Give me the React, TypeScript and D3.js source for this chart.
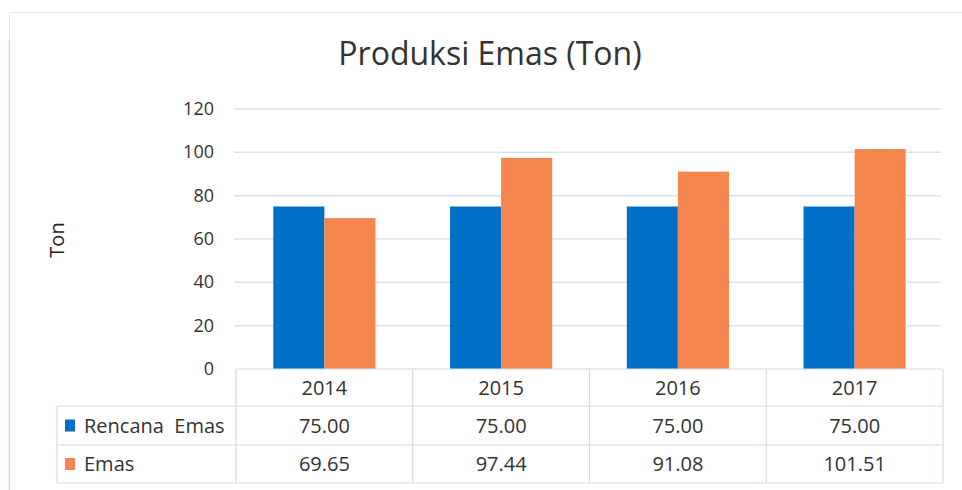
import React from 'react';
import * as d3 from 'd3';

const years = ['2014', '2015', '2016', '2017'];
const seriesNames = ['Rencana  Emas', 'Emas'];
const rencana = [75.0, 75.0, 75.0, 75.0];
const emas = [69.65, 97.44, 91.08, 101.51];
const yTicks = [0, 20, 40, 60, 80, 100, 120];
const colors = ['#0070C6', '#F4864E'];

const W = 962;
const H = 490;
const FONT = '"Open Sans", "Noto Sans", sans-serif';

const App = () => {
  const plotLeft = 236;
  const plotRight = 943;
  const plotTop = 109;
  const plotBottom = 369;

  const x = d3.scaleBand().domain(years).range([plotLeft, plotRight]).padding(0);
  const inner = d3.scaleBand().domain(seriesNames).range([0, x.bandwidth()]).paddingInner(0).paddingOuter(0.73);
  const y = d3.scaleLinear().domain([0, 120]).range([plotBottom, plotTop]);

  const values = [rencana, emas];
  const rowTop = 369;
  const rowBounds = [rowTop, 406, 445, 483];
  const tableLeft = 57;

  return (
    <svg width={W} height={H} style={{ position: 'absolute', left: 0, top: 0, background: '#fff' }} fontFamily={FONT}>
      <rect x={9.5} y={12.5} width={960} height={490} fill="#fff" stroke="#e3eaf2" />
      <line x1={9.5} x2={9.5} y1={40} y2={490} stroke="#c9dcf0" strokeWidth={1.5} />
      <text x={490} y={65} textAnchor="middle" fontSize={32} fill="#333">
        Produksi Emas (Ton)
      </text>
      <text transform={`translate(64,${(plotTop + plotBottom) / 2 + 1}) rotate(-90)`} textAnchor="middle" fontSize={20} fill="#222">
        Ton
      </text>
      {yTicks.map((t) => (
        <g key={t}>
          {t > 0 && <line x1={plotLeft - 2} x2={plotRight - 2} y1={y(t)} y2={y(t)} stroke="#dbe2ea" strokeWidth={1.5} />}
          <text x={214} y={y(t) + 6} textAnchor="end" fontSize={18} fill="#333">
            {t}
          </text>
        </g>
      ))}
      {years.map((yr, i) =>
        values.map((vals, s) => (
          <rect
            key={yr + s}
            x={(x(yr) as number) + (inner(seriesNames[s]) as number)}
            y={y(vals[i])}
            width={inner.bandwidth()}
            height={y(0) - y(vals[i])}
            fill={colors[s]}
          />
        ))
      )}
      {/* data table */}
      <g stroke="#d3dce6" strokeWidth={1.2} fill="none">
        <line x1={plotLeft} x2={plotRight} y1={rowTop} y2={rowTop} />
        {rowBounds.slice(1).map((b) => (
          <line key={b} x1={tableLeft} x2={plotRight} y1={b} y2={b} />
        ))}
        <line x1={tableLeft} x2={tableLeft} y1={rowBounds[1]} y2={rowBounds[3]} />
        {years.map((yr) => (
          <line key={yr} x1={x(yr)} x2={x(yr)} y1={rowTop} y2={rowBounds[3]} />
        ))}
        <line x1={plotRight} x2={plotRight} y1={rowTop} y2={rowBounds[3]} />
      </g>
      {years.map((yr) => (
        <text key={yr} x={(x(yr) as number) + x.bandwidth() / 2} y={395} textAnchor="middle" fontSize={20} fill="#333">
          {yr}
        </text>
      ))}
      {seriesNames.map((name, s) => {
        const cy = (rowBounds[s + 1] + rowBounds[s + 2]) / 2;
        return (
          <g key={name}>
            <rect x={65} y={cy - 6} width={10} height={12} fill={colors[s]} />
            <text x={84} y={cy + 7} fontSize={20} fill="#333" style={{ whiteSpace: 'pre' }}>
              {name}
            </text>
            {years.map((yr, i) => (
              <text key={yr} x={(x(yr) as number) + x.bandwidth() / 2} y={cy + 7} textAnchor="middle" fontSize={20} fill="#333">
                {values[s][i].toFixed(2)}
              </text>
            ))}
          </g>
        );
      })}
    </svg>
  );
};

export default App;
